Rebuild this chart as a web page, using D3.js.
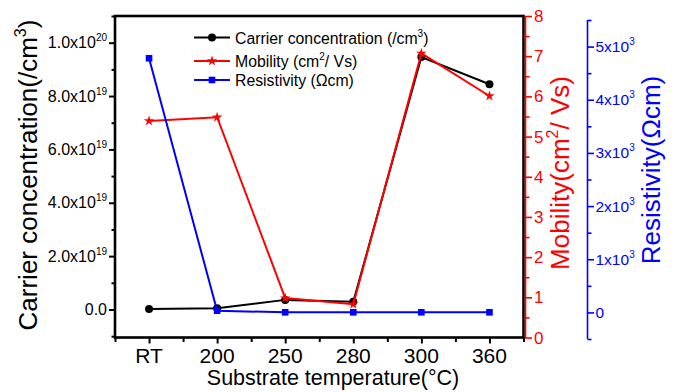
<!DOCTYPE html>
<html><head><meta charset="utf-8">
<script src="https://cdn.jsdelivr.net/npm/d3@7"></script>
<style>body{margin:0;background:#fff} text{font-family:"Liberation Sans",Arial,Helvetica,sans-serif}</style>
</head><body>
<svg id="c" width="678" height="392"></svg>
<script>
// ---- data ----
const categories = ["RT", "200", "250", "280", "300", "360"];
const carrier = [0.02e19, 0.045e19, 0.36e19, 0.29e19, 9.46e19, 8.44e19];   // /cm^3
const mobility = [5.39, 5.48, 0.98, 0.83, 7.07, 6.01];                       // cm^2/Vs
const resistivity = [4780, 32, 2, 2, 2, 2];                                   // Ωcm
const leftTicks = [0, 2e19, 4e19, 6e19, 8e19, 1e20];
const leftTickLabels = [["0.0", ""], ["2.0x10", "19"], ["4.0x10", "19"], ["6.0x10", "19"], ["8.0x10", "19"], ["1.0x10", "20"]];
const mobTicks = [0, 1, 2, 3, 4, 5, 6, 7, 8];
const resTicks = [0, 1000, 2000, 3000, 4000, 5000];
const resTickLabels = [["0", ""], ["1x10", "3"], ["2x10", "3"], ["3x10", "3"], ["4x10", "3"], ["5x10", "3"]];
const legendLabels = [["Carrier concentration (/cm", "3", ")"], ["Mobility (cm", "2", "/ Vs)"], ["Resistivity (Ωcm)", "", ""]];

const svg = d3.select("#c");
const L = 115, R = 523.5, T = 16, B = 337.5;
const RED = "#ff0000", BLUE = "#0000ff";

const x = d3.scalePoint().domain(categories).range([L, R]).padding(0.5);
const yL = d3.scaleLinear().domain([-1.05e19, 1.1e20]).range([B, T]);
const yM = d3.scaleLinear().domain([0, 8]).range([B, T]);
const yR = d3.scaleLinear().domain([-500, 5500]).range([339, 20]);

function styleAxis(g, color, w) {
  g.select(".domain").remove();
  g.selectAll(".tick line").attr("stroke", color).attr("stroke-width", w);
  g.selectAll(".tick text").remove();
}

// ---- left axis ticks ----
const leftMinor = d3.range(-1e19, 1.11e20, 2e19);
svg.append("g").attr("transform", `translate(${L},0)`)
  .call(d3.axisLeft(yL).tickValues(leftTicks).tickSize(6).tickFormat(""))
  .call(g => styleAxis(g, "#000", 2));
svg.append("g").attr("transform", `translate(${L},0)`)
  .call(d3.axisLeft(yL).tickValues(leftMinor).tickSize(3.5).tickFormat(""))
  .call(g => styleAxis(g, "#000", 2));
const lt = svg.append("g").selectAll("text").data(leftTicks).join("text")
  .attr("x", L - 8).attr("y", d => yL(d) + 5.5).attr("text-anchor", "end")
  .attr("font-size", 16).attr("fill", "#000");
lt.append("tspan").text((d, i) => leftTickLabels[i][0]);
lt.append("tspan").attr("font-size", 10).attr("dy", -7).text((d, i) => leftTickLabels[i][1]);

// ---- x axis ticks ----
const xs = categories.map(c => x(c));
const step = x.step();
const xMinor = [L].concat(xs.map(v => v + step / 2));
const xMinorScale = d3.scaleLinear().domain([L, R]).range([L, R]);
svg.append("g").attr("transform", `translate(0,${B})`)
  .call(d3.axisBottom(x).tickSize(6).tickFormat(""))
  .call(g => styleAxis(g, "#000", 2));
svg.append("g").attr("transform", `translate(0,${B})`)
  .call(d3.axisBottom(xMinorScale).tickValues(xMinor).tickSize(4.5).tickFormat(""))
  .call(g => styleAxis(g, "#000", 2));
svg.append("g").selectAll("text").data(categories).join("text")
  .attr("x", d => x(d)).attr("y", 363).attr("text-anchor", "middle")
  .attr("font-size", 21).attr("fill", "#000").text(d => d);

// ---- frame ----
svg.append("rect").attr("x", L).attr("y", T).attr("width", R - L).attr("height", B - T)
  .attr("fill", "none").attr("stroke", "#000").attr("stroke-width", 2.6);

// ---- red (mobility) axis ----
const RX = 525.5;
svg.append("line").attr("x1", RX).attr("x2", RX).attr("y1", T).attr("y2", B + 1)
  .attr("stroke", RED).attr("stroke-width", 1.6);
svg.append("g").attr("transform", `translate(${RX},0)`)
  .call(d3.axisRight(yM).tickValues(mobTicks).tickSize(6.5).tickFormat(""))
  .call(g => styleAxis(g, RED, 1.6));
svg.append("g").attr("transform", `translate(${RX},0)`)
  .call(d3.axisRight(yM).tickValues(d3.range(0.5, 8, 1)).tickSize(4).tickFormat(""))
  .call(g => styleAxis(g, RED, 1.6));
svg.append("g").selectAll("text").data(mobTicks).join("text")
  .attr("x", RX + 8.5).attr("y", d => yM(d) + 6).attr("font-size", 17)
  .attr("fill", RED).text(d => d);

// ---- blue (resistivity) axis ----
const BX = 587.5;
svg.append("line").attr("x1", BX).attr("x2", BX).attr("y1", yR(5500)).attr("y2", yR(-500))
  .attr("stroke", BLUE).attr("stroke-width", 1.6);
svg.append("g").attr("transform", `translate(${BX},0)`)
  .call(d3.axisRight(yR).tickValues(resTicks).tickSize(6.5).tickFormat(""))
  .call(g => styleAxis(g, BLUE, 1.6));
svg.append("g").attr("transform", `translate(${BX},0)`)
  .call(d3.axisRight(yR).tickValues(d3.range(-500, 5600, 1000)).tickSize(4).tickFormat(""))
  .call(g => styleAxis(g, BLUE, 1.6));
const bt = svg.append("g").selectAll("text").data(resTicks).join("text")
  .attr("x", BX + 8).attr("y", d => yR(d) + 5.5).attr("font-size", 15.5).attr("fill", BLUE);
bt.append("tspan").text((d, i) => resTickLabels[i][0]);
bt.append("tspan").attr("font-size", 10).attr("dy", -7).text((d, i) => resTickLabels[i][1]);

// ---- series ----
function series(vals, yS, color) {
  const pts = categories.map((c, i) => [x(c), yS(vals[i])]);
  svg.append("path").attr("d", d3.line()(pts)).attr("fill", "none")
    .attr("stroke", color).attr("stroke-width", 2);
  return pts;
}
const pC = series(carrier, yL, "#000");
svg.append("g").selectAll("circle").data(pC).join("circle")
  .attr("cx", d => d[0]).attr("cy", d => d[1]).attr("r", 4).attr("fill", "#000");
const pM = series(mobility, yM, RED);
const star = d3.symbol().type(d3.symbolStar).size(34);
svg.append("g").selectAll("path").data(pM).join("path")
  .attr("transform", d => `translate(${d[0]},${d[1]})`).attr("d", star()).attr("fill", RED);
const pR = series(resistivity, yR, BLUE);
svg.append("g").selectAll("rect").data(pR).join("rect")
  .attr("x", d => d[0] - 3.3).attr("y", d => d[1] - 3.3).attr("width", 6.6).attr("height", 6.6).attr("fill", BLUE);

// ---- legend ----
const legY = [37.5, 61, 80];
const legColors = ["#000", RED, BLUE];
legY.forEach((ly, i) => {
  svg.append("line").attr("x1", 194).attr("x2", 230).attr("y1", ly).attr("y2", ly)
    .attr("stroke", legColors[i]).attr("stroke-width", 2);
  if (i === 0) svg.append("circle").attr("cx", 212).attr("cy", ly).attr("r", 4).attr("fill", "#000");
  if (i === 1) svg.append("path").attr("transform", `translate(212,${ly})`).attr("d", star()).attr("fill", RED);
  if (i === 2) svg.append("rect").attr("x", 208.7).attr("y", ly - 3.3).attr("width", 6.6).attr("height", 6.6).attr("fill", BLUE);
  const t = svg.append("text").attr("x", 235).attr("y", ly + 6).attr("font-size", 15.8).attr("fill", "#000");
  t.append("tspan").text(legendLabels[i][0]);
  if (legendLabels[i][1]) {
    t.append("tspan").attr("font-size", 10).attr("dy", -7).text(legendLabels[i][1]);
    t.append("tspan").attr("dy", 7).text(legendLabels[i][2]);
  }
});

// ---- axis titles ----
const lt1 = svg.append("text").attr("transform", "translate(37,175) rotate(-90)")
  .attr("text-anchor", "middle").attr("font-size", 26).attr("fill", "#000");
lt1.append("tspan").text("Carrier concentration(/cm");
lt1.append("tspan").attr("font-size", 16).attr("dy", -11).text("3");
lt1.append("tspan").attr("dy", 11).text(")");

const rt1 = svg.append("text").attr("transform", "translate(569,173) rotate(-90)")
  .attr("text-anchor", "middle").attr("font-size", 26).attr("fill", RED);
rt1.append("tspan").text("Mobility(cm");
rt1.append("tspan").attr("font-size", 16).attr("dy", -11).text("2");
rt1.append("tspan").attr("dy", 11).text("/ Vs)");

svg.append("text").attr("transform", "translate(660,170) rotate(-90)")
  .attr("text-anchor", "middle").attr("font-size", 26).attr("fill", BLUE).text("Resistivity(Ωcm)");

svg.append("text").attr("x", 333).attr("y", 385).attr("text-anchor", "middle")
  .attr("font-size", 21.5).attr("fill", "#000").text("Substrate temperature(°C)");
</script>
</body></html>
